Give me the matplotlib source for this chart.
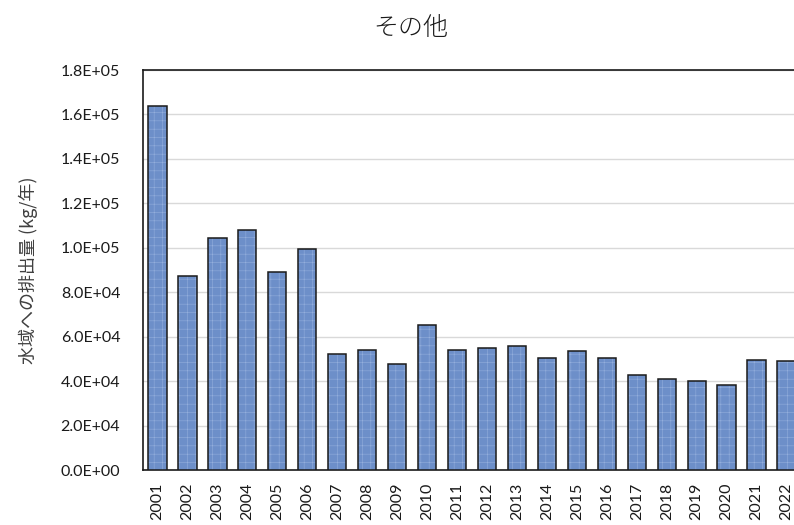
import matplotlib
matplotlib.use("Agg")
import matplotlib.pyplot as plt
from matplotlib.ticker import FuncFormatter

years = [str(y) for y in range(2001, 2023)]
emissions = [163800, 87400, 104500, 108000, 89300, 99600, 52200, 53900, 47700,
             65400, 53900, 55000, 56000, 50600, 53400, 50600, 42800, 41100,
             40200, 38400, 49500, 48900]
y_ticks = [i * 20000 for i in range(10)]

plt.rcParams['font.family'] = ['Lato', 'Noto Sans CJK JP', 'DejaVu Sans']
plt.rcParams['hatch.linewidth'] = 0.4

fig = plt.figure(figsize=(7.94, 5.25), dpi=100)
# plot area runs past the right edge, as in the cropped original
ax = fig.add_axes([142.5 / 794, 55 / 525, 659 / 794, 400 / 525])

x = list(range(len(years)))
# textured fill, then the dark outline on top
ax.bar(x, emissions, width=0.61, color='#6d8fc9', edgecolor='#93aedc',
       linewidth=0, hatch='++', zorder=3)
ax.bar(x, emissions, width=0.61, fill=False, edgecolor='#1a1a1a',
       linewidth=1.1, zorder=4)

ax.set_xlim(-0.5, len(years) - 0.5)
ax.set_ylim(0, 180000)
ax.set_yticks(y_ticks)
ax.yaxis.set_major_formatter(FuncFormatter(lambda v, p: f"{v:.1E}"))
ax.set_xticks(x)
ax.set_xticklabels(years, rotation=90)
ax.tick_params(axis='both', length=0, labelsize=11.5, colors='#1a1a1a')
ax.tick_params(axis='y', pad=16)
ax.tick_params(axis='x', pad=9)

ax.grid(axis='y', color='#d9d9d9', linewidth=1.0, zorder=0)
for side in ['left', 'bottom', 'top', 'right']:
    ax.spines[side].set_color('#1a1a1a')
    ax.spines[side].set_linewidth(1.2)

ax.set_ylabel('水域への排出量 (kg/年)', family=['Noto Sans CJK JP', 'DejaVu Sans'],
              fontsize=13, color='#404040', labelpad=16)
fig.text(411 / 794, 1 - 28 / 525, 'その他', family=['Noto Sans CJK JP', 'DejaVu Sans'],
         fontsize=18, fontweight='light', ha='center', va='center', color='#1a1a1a')

fig.savefig('out.png', dpi=100)
